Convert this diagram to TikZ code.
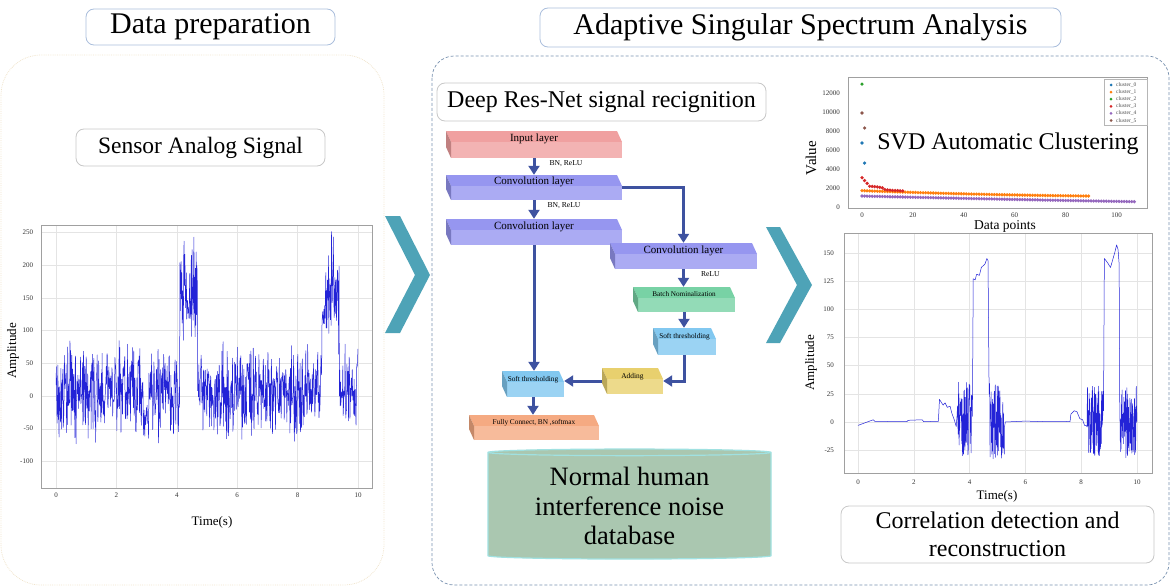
\documentclass[tikz,border=0pt]{standalone}
\usepackage{fontspec}
\setmainfont{Liberation Serif}
\usetikzlibrary{arrows.meta}
\usetikzlibrary{shapes.geometric}

\definecolor{arrowc}{RGB}{62,82,160}
\definecolor{chevc}{RGB}{78,163,183}
\definecolor{inputc}{RGB}{240,160,160}
\definecolor{convc}{RGB}{150,150,240}
\definecolor{bnc}{RGB}{120,210,165}
\definecolor{softc}{RGB}{130,200,240}
\definecolor{addc}{RGB}{232,208,110}
\definecolor{fcc}{RGB}{245,170,130}
\definecolor{dbfill}{RGB}{170,199,176}
\definecolor{dbline}{RGB}{160,225,225}
\definecolor{titleline}{RGB}{170,190,220}
\definecolor{boxline}{RGB}{200,200,200}
\definecolor{panelline}{RGB}{120,145,175}
\definecolor{leftpanel}{RGB}{240,228,205}
\definecolor{sig}{RGB}{35,35,215}
\definecolor{gridc}{RGB}{228,228,228}
\definecolor{framec}{RGB}{160,160,160}
\definecolor{c0}{RGB}{31,119,180}
\definecolor{c1}{RGB}{255,127,14}
\definecolor{c2}{RGB}{44,160,44}
\definecolor{c3}{RGB}{214,39,40}
\definecolor{c4}{RGB}{148,103,189}
\definecolor{c5}{RGB}{140,86,75}

\newcommand{\fsz}[1]{\fontsize{#1}{#1}\selectfont}

\tikzset{
  titlebox/.style={draw=titleline, line width=0.8pt, rounded corners=8pt, fill=white, inner sep=0pt},
  textbox/.style={draw=boxline, line width=0.8pt, rounded corners=8pt, fill=white, inner sep=0pt},
  layer/.style={inner sep=0pt, text height=8pt, text depth=14pt, path picture={
      \fill[#1] (path picture bounding box.north west) -- ([xshift=-5pt]path picture bounding box.north east)
        -- ([yshift=-11pt]path picture bounding box.north east) -- ([xshift=5pt,yshift=-11pt]path picture bounding box.north west) -- cycle;
      \fill[#1!80!white] ([xshift=5pt,yshift=-11pt]path picture bounding box.north west) rectangle (path picture bounding box.south east);
      \fill[#1!80!black] (path picture bounding box.north west) -- ([xshift=5pt,yshift=-11pt]path picture bounding box.north west)
        -- ([xshift=5pt]path picture bounding box.south west) -- ([yshift=11pt]path picture bounding box.south west) -- cycle;
    }},
  small layer/.style={layer=#1, text height=5.5pt, text depth=11.3pt},
  flow/.style={draw=arrowc, line width=3pt, -{Triangle[width=11pt,length=9pt]}},
  note/.style={font=\fsz{7.6}, inner sep=0pt},
  ticklab/.style={font=\fsz{7}, inner sep=1pt, text=black!80},
  axlab/.style={font=\fsz{13}, inner sep=0pt},
  sigline/.style={draw=sig, line width=0.5pt, line join=round},
}

\begin{document}
\begin{tikzpicture}[x=1pt, y=-1pt]
\useasboundingbox (0,0) rectangle (1171,586);
\pgfmathsetseed{42}

% panels
\draw[leftpanel, densely dotted, line width=0.8pt, rounded corners=40pt] (1,55) rectangle (384,585);
\draw[panelline, densely dashed, line width=0.7pt, rounded corners=22pt] (432,56) rectangle (1169,585);

\node[titlebox, minimum width=249pt, minimum height=36pt, font=\fsz{30}] (prep) at (210.5,27) {Data preparation};
\node[titlebox, minimum width=521pt, minimum height=39pt, font=\fsz{30}] (assa) at (800.5,27.5) {Adaptive Singular Spectrum Analysis};
\node[textbox, minimum width=249pt, minimum height=37pt, font=\fsz{23.5}] (sensor) at (200.5,147.5) {Sensor Analog Signal};
\node[textbox, minimum width=329pt, minimum height=38pt, font=\fsz{24}] (drn) at (601.5,102) {Deep Res-Net signal recignition};

% chevrons
\fill[chevc] (385,216) -- (400,216) -- (430,275) -- (400,333) -- (385,333) -- (415,275) -- cycle;
\fill[chevc] (766,227) -- (780,227) -- (812,285) -- (780,343) -- (766,343) -- (797,285) -- cycle;

% sensor signal
\begin{scope}[xshift=56pt, yshift=-396pt, x=30.2pt, y=0.654pt]
  \foreach \t in {0,2,...,10} \draw[gridc] (\t,-140.7) -- (\t,261.5);
  \foreach \v in {-100,-50,...,250} \draw[gridc] (-0.5,\v) -- (10.46,\v);
  \draw[framec] (-0.5,-140.7) rectangle (10.46,261.5);
  \foreach \t in {0,2,...,10} \node[ticklab] at (\t,-151) {\t};
  \foreach \v in {-100,-50,...,250} \node[ticklab, anchor=east] at (-0.72,\v) {\v};
  \draw[sigline] plot[domain=0:10, samples=800]
    (\x, {6+52*rand+32*rand+(\x>4.1)*(\x<4.68)*(150+35*rand)+(\x>8.8)*(\x<9.38)*(150+35*rand)});
\end{scope}
\node[axlab, rotate=90] (lamp) at (13,351) {Amplitude};
\node[axlab] (ltime) at (212,522) {Time(s)};

% svd clustering
\begin{scope}[xshift=862pt, yshift=-207pt, x=2.545pt, y=9.45pt]
  \draw[framec] (-5.5,-0.1) rectangle (112,13.76);
  \foreach \v [evaluate=\v as \lab using int(\v*1000)] in {0,2,...,12} \node[ticklab, anchor=east] at (-8.2,\v) {\lab};
  \foreach \i in {0,20,...,100} \node[ticklab] at (\i,-0.85) {\i};
  \foreach \i in {0,...,89} \fill[c1] (\i,{1.73-0.9*\i/89+0.33*(\i/89)*(\i/89)}) circle (1.8pt);
  \foreach \i in {0,...,107} \fill[c4] (\i,{1.16-0.7*\i/107+0.1*(\i/107)*(\i/107)}) circle (1.8pt);
  \foreach \i/\v in {0/3.1,1/2.8,2/2.5,3/2.2,4/2.18,5/2.15,6/2.12,7/2.08,8/2.02,9/1.85,10/1.8,11/1.78,12/1.76,13/1.75,14/1.74,15/1.72,16/1.7}
    \fill[c3] (\i,\v) circle (1.8pt);
  \fill[c0] (0,6.77) circle (1.8pt) (1,4.65) circle (1.8pt);
  \fill[c2] (0,13.0) circle (1.8pt);
  \fill[c5] (0,9.95) circle (1.8pt) (1,8.36) circle (1.8pt);
\end{scope}
\draw[gridc!80!black, line width=0.4pt] (1104,79) rectangle (1147,125);
\foreach \k/\c in {0/c0,1/c1,2/c2,3/c3,4/c4,5/c5} {
  \fill[\c] (1111,{85+7.1*\k}) circle (1.5pt);
  \node[font=\fsz{5.5}, anchor=west, inner sep=0pt, text=black!70] at (1116,{85+7.1*\k}) {cluster\_\k};
}
\node[font=\fsz{24}] (svd) at (1008,144) {SVD Automatic Clustering};
\node[font=\fsz{15}, rotate=90] (value) at (811,158) {Value};
\node[font=\fsz{13.5}, inner sep=0pt] (dpts) at (1005,226.5) {Data points};

% reconstructed signal
\begin{scope}[xshift=858pt, yshift=-422pt, x=27.9pt, y=1.128pt]
  \foreach \t in {0,2,...,10} \draw[gridc] (\t,-45.2) -- (\t,167.6);
  \foreach \v in {-25,0,...,150} \draw[gridc] (-0.5,\v) -- (10.54,\v);
  \draw[framec] (-0.5,-45.2) rectangle (10.54,167.6);
  \foreach \t in {0,2,...,10} \node[ticklab] at (\t,-53.2) {\t};
  \foreach \v in {-25,0,...,150} \node[ticklab, anchor=east] at (-0.82,\v) {\v};
  \draw[sigline] (0,-3) -- (0.55,2) -- (0.6,0.6) -- (1.2,0.4) -- (1.75,0.3) -- (1.8,1.5) -- (2.3,2) -- (2.35,0.4)
    -- (2.88,0.5) -- (2.92,20) -- (3.05,15) -- (3.12,17) -- (3.2,13) -- (3.3,14) -- (3.36,8) -- (3.45,2) -- (3.52,-4)
    -- plot[domain=3.55:4.08, samples=70] (\x,{2+34*rand})
    -- (4.1,5) -- (4.13,127) -- (4.2,126) -- (4.25,131) -- (4.35,130) -- (4.42,137) -- (4.55,140) -- (4.62,145) -- (4.66,143) -- (4.7,25)
    -- plot[domain=4.72:5.25, samples=70] (\x,{34*rand})
    -- (5.28,0) -- (6.0,0.8) -- (6.5,0.4) -- (7.0,0.6) -- (7.6,0.4) -- (7.63,7) -- (7.75,10) -- (7.85,9) -- (7.95,3) -- (8.05,2) -- (8.12,-3)
    -- plot[domain=8.2:8.78, samples=70] (\x,{32*rand})
    -- (8.8,10) -- (8.83,145) -- (8.95,141) -- (9.05,137) -- (9.12,143) -- (9.2,150) -- (9.27,157) -- (9.32,153) -- (9.36,140) -- (9.38,20)
    -- plot[domain=9.4:10, samples=75] (\x,{32*rand});
\end{scope}
\node[axlab, rotate=90] (ramp) at (811,363) {Amplitude};
\node[axlab] (rtime) at (997,496) {Time(s)};
\node[textbox, minimum width=313pt, minimum height=57pt, font=\fontsize{24}{28}\selectfont, align=center] (corr) at (997.5,534.5) {Correlation detection and\\reconstruction};

% res-net
\node[layer=inputc, minimum width=176pt, minimum height=27pt, font=\fsz{11}] (input) at (534,144.5) {Input layer};
\node[layer=convc, minimum width=176pt, minimum height=25pt, font=\fsz{11}] (conv1) at (534,187.5) {Convolution layer};
\node[layer=convc, minimum width=176pt, minimum height=26pt, font=\fsz{11}] (conv2) at (534,232) {Convolution layer};
\node[layer=convc, minimum width=147pt, minimum height=26pt, font=\fsz{11}] (conv3) at (683.5,256) {Convolution layer};
\node[small layer=bnc, minimum width=102pt, minimum height=25pt, font=\fsz{7.2}] (bn) at (684,299.5) {Batch Nominalization};
\node[small layer=softc, minimum width=63pt, minimum height=27pt, font=\fsz{7.3}] (soft2) at (684.5,341.5) {Soft thresholding};
\node[small layer=addc, minimum width=61pt, minimum height=26pt, font=\fsz{7.4}] (add) at (632.5,381) {Adding};
\node[small layer=softc, minimum width=62pt, minimum height=26pt, font=\fsz{7.3}] (soft1) at (533,384) {Soft thresholding};
\node[small layer=fcc, minimum width=130pt, minimum height=25pt, font=\fsz{7.3}] (fc) at (534,427.5) {Fully Connect, BN ,softmax};

\draw[flow] (input.south) -- node[note, pos=0.3, right=14pt] {BN, ReLU} (input.south |- conv1.north);
\draw[flow] (conv1.south) -- node[note, pos=0.3, right=12pt] {BN, ReLU} (conv1.south |- conv2.north);
\draw[flow] (conv1.east) -| (conv3.north);
\draw[flow] (conv2.south) -- (conv2.south |- soft1.north);
\draw[flow] (conv3.south) -- node[note, pos=0.3, right=16pt] {ReLU} (conv3.south |- bn.north);
\draw[flow] (bn.south) -- (bn.south |- soft2.north);
\draw[flow] (soft2.south) |- (add.east);
\draw[flow] (add.west) -- (add.west -| soft1.east);
\draw[flow] (soft1.south) -- (soft1.south |- fc.north);

\node[cylinder, shape border rotate=90, aspect=0.035, minimum width=283pt, minimum height=110pt, draw=dbline, line width=1.2pt,
  fill=dbfill, inner sep=0pt, align=center, font=\fontsize{26.5}{29.5}\selectfont] (db) at (629.5,506) {Normal human\\interference noise\\database};
\end{tikzpicture}
\end{document}
